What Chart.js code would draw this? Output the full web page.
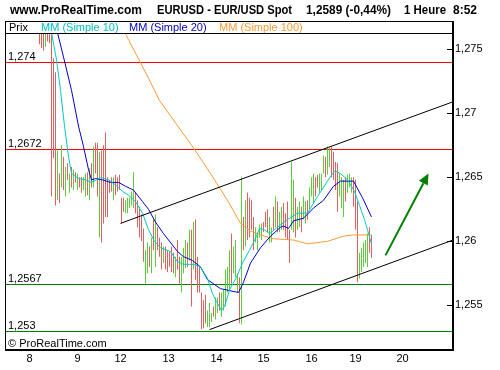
<!DOCTYPE html>
<html>
<head>
<meta charset="utf-8">
<script src="https://cdn.jsdelivr.net/npm/chart.js@4.4.0/dist/chart.umd.min.js"></script>
<style>
  html, body { margin: 0; padding: 0; background: #fff; }
  #wrap { width: 500px; height: 370px; }
</style>
</head>
<body>
<div id="wrap"><canvas id="c" width="500" height="370"></canvas></div>
<script>
// 1 hour bars, x = hour index (0 = start of day 8)
const firstBar = 5;
const hi = [
  1.2770, 1.2770, 1.2770, 1.2770, 1.2770, 1.2770, 1.2770, 1.2743, 1.2732, 1.2671,
  1.2653, 1.2675, 1.2666, 1.2658, 1.2661, 1.2653, 1.2658, 1.2656, 1.2654, 1.2653,
  1.2650, 1.2650, 1.2650, 1.2653, 1.2654, 1.2657, 1.2661, 1.2674, 1.2677, 1.2677,
  1.2670, 1.2671, 1.2675, 1.2685, 1.2650, 1.2648, 1.2650, 1.2650, 1.2652, 1.2650,
  1.2652, 1.2634, 1.2634, 1.2632, 1.2634, 1.2634, 1.2639, 1.2654, 1.2638, 1.2632,
  1.2627, 1.2621, 1.2610, 1.2593, 1.2599, 1.2596, 1.2603, 1.2617, 1.2621, 1.2611,
  1.2603, 1.2599, 1.2596, 1.2596, 1.2593, 1.2592, 1.2596, 1.2591, 1.2588, 1.2601,
  1.2588, 1.2588, 1.2595, 1.2601, 1.2599, 1.2609, 1.2609, 1.2615, 1.2617, 1.2588,
  1.2580, 1.2560, 1.2554, 1.2558, 1.2546, 1.2552, 1.2544, 1.2549, 1.2556, 1.2556,
  1.2560, 1.2560, 1.2562, 1.2578, 1.2580, 1.2593, 1.2606, 1.2596, 1.2601, 1.2575,
  1.2572, 1.2650, 1.2619, 1.2632, 1.2638, 1.2634, 1.2632, 1.2619, 1.2611, 1.2607,
  1.2613, 1.2614, 1.2615, 1.2623, 1.2625, 1.2619, 1.2611, 1.2627, 1.2635, 1.2631,
  1.2623, 1.2627, 1.2630, 1.2622, 1.2631, 1.2609, 1.2662, 1.2648, 1.2634, 1.2627,
  1.2631, 1.2627, 1.2635, 1.2631, 1.2632, 1.2642, 1.2650, 1.2653, 1.2650, 1.2652,
  1.2653, 1.2653, 1.2667, 1.2666, 1.2674, 1.2673, 1.2674, 1.2670, 1.2662, 1.2661,
  1.2653, 1.2650, 1.2648, 1.2650, 1.2652, 1.2653, 1.2650, 1.2650, 1.2648, 1.2631,
  1.2591, 1.2595, 1.2599, 1.2601, 1.2606, 1.2611, 1.2605
];
const lo = [
  1.2754, 1.2751, 1.2749, 1.2752, 1.2756, 1.2755, 1.2635, 1.2665, 1.2628, 1.2632,
  1.2630, 1.2642, 1.2640, 1.2635, 1.2648, 1.2638, 1.2642, 1.2640, 1.2646, 1.2640,
  1.2642, 1.2638, 1.2640, 1.2635, 1.2636, 1.2632, 1.2642, 1.2642, 1.2653, 1.2635,
  1.2603, 1.2599, 1.2614, 1.2619, 1.2619, 1.2638, 1.2639, 1.2632, 1.2636, 1.2639,
  1.2640, 1.2614, 1.2623, 1.2622, 1.2622, 1.2626, 1.2628, 1.2626, 1.2622, 1.2611,
  1.2603, 1.2600, 1.2584, 1.2567, 1.2575, 1.2580, 1.2575, 1.2593, 1.2580, 1.2593,
  1.2588, 1.2578, 1.2583, 1.2578, 1.2576, 1.2580, 1.2576, 1.2575, 1.2572, 1.2578,
  1.2567, 1.2560, 1.2575, 1.2579, 1.2580, 1.2585, 1.2549, 1.2578, 1.2570, 1.2560,
  1.2560, 1.2531, 1.2532, 1.2536, 1.2533, 1.2533, 1.2537, 1.2541, 1.2539, 1.2544,
  1.2546, 1.2541, 1.2546, 1.2549, 1.2560, 1.2562, 1.2567, 1.2575, 1.2572, 1.2560,
  1.2536, 1.2535, 1.2593, 1.2596, 1.2601, 1.2603, 1.2609, 1.2593, 1.2599, 1.2593,
  1.2603, 1.2601, 1.2607, 1.2611, 1.2607, 1.2599, 1.2599, 1.2609, 1.2611, 1.2607,
  1.2607, 1.2609, 1.2609, 1.2603, 1.2601, 1.2583, 1.2609, 1.2607, 1.2603, 1.2609,
  1.2611, 1.2607, 1.2617, 1.2614, 1.2617, 1.2625, 1.2635, 1.2630, 1.2635, 1.2642,
  1.2638, 1.2640, 1.2653, 1.2650, 1.2652, 1.2658, 1.2650, 1.2648, 1.2640, 1.2623,
  1.2635, 1.2626, 1.2619, 1.2631, 1.2638, 1.2642, 1.2638, 1.2627, 1.2609, 1.2568,
  1.2571, 1.2576, 1.2580, 1.2583, 1.2580, 1.2591, 1.2587
];
// g = hausse, r = baisse
const dirs = ("rrrgrrrrrg" + "rgrgrgrgrg" + "rrggrgrgrr" + "grrrrrrgrr" +
              "rrrgggggrr" + "rrrggrgrgr" + "rrgrrrrrgr" + "rgggrgrgrr" +
              "rrrrgggrgg" + "rgggggrggg" + "rgrgrrrrgg" + "ggrrrggrgr" +
              "ggrrrrggrg" + "grggrgggrr" + "gggrggrrrr" + "gggrgggrrr" +
              "gggggrr").split("");

// moyennes mobiles [heure, prix]
const ma10 = [
  [11, 1.2763], [13.5, 1.2742], [15.5, 1.2718], [17.5, 1.2690], [19.5, 1.2666],
  [21, 1.2653], [24.5, 1.2649], [28, 1.2648], [31, 1.2646], [33.5, 1.2648],
  [35.5, 1.2650], [39.5, 1.2648], [43, 1.2644], [46.5, 1.2639], [49.5, 1.2636],
  [53, 1.2631], [56.5, 1.2622], [59.5, 1.2609], [62.5, 1.2600], [65.5, 1.2595],
  [70.5, 1.2592], [74, 1.2584], [77, 1.2582], [82, 1.2582], [85.5, 1.2580],
  [89, 1.2571], [91.5, 1.2559], [93.5, 1.2553], [96, 1.2546], [97.5, 1.2549],
  [100, 1.2562], [103.5, 1.2572], [106.5, 1.2583], [110, 1.2593], [113.5, 1.2604],
  [115, 1.2610], [117.5, 1.2609], [120, 1.2606], [124, 1.2611], [129, 1.2617],
  [134, 1.2622], [139, 1.2622], [144, 1.2635], [149, 1.2647], [152.5, 1.2655],
  [155.5, 1.2653], [159, 1.2648], [162.5, 1.2639], [165, 1.2628], [167.5, 1.2617],
  [169, 1.2609], [171, 1.2598]
];
const ma20 = [
  [14, 1.2763], [17, 1.2744], [21, 1.2718], [24.5, 1.2690], [27, 1.2674],
  [29.5, 1.2656], [31, 1.2648], [33, 1.2649], [36.5, 1.2648], [40.5, 1.2646],
  [44.5, 1.2646], [48, 1.2643], [52, 1.2640], [56.5, 1.2631], [59.5, 1.2625],
  [63, 1.2615], [67, 1.2606], [71.5, 1.2597], [74, 1.2592], [77, 1.2588],
  [81.5, 1.2585], [85.5, 1.2580], [89, 1.2570], [95.5, 1.2563], [104.5, 1.2560],
  [107, 1.2568], [110.5, 1.2583], [115.5, 1.2595], [120.5, 1.2604], [125.5, 1.2611],
  [127, 1.2612], [129.5, 1.2610], [132, 1.2616], [137, 1.2618], [142, 1.2626],
  [147, 1.2632], [152, 1.2643], [155.5, 1.2647], [162, 1.2647], [166.5, 1.2634],
  [171, 1.2619]
];
const ma100 = [
  [46, 1.2768], [54, 1.2744], [59, 1.2729], [65, 1.2710], [75.5, 1.2687],
  [82, 1.2673], [90.5, 1.2653], [99, 1.2632], [105.5, 1.2614], [110.5, 1.2608],
  [115.5, 1.2605], [122, 1.2602], [132, 1.2601], [139, 1.2598], [149, 1.2600],
  [157, 1.2604], [162, 1.2605], [171, 1.2605]
];

// canal haussier et fleche
const upperChannel = [[45.5, 1.2614], [211.75, 1.2709]];
const lowerChannel = [[90, 1.2531], [211.75, 1.2601]];
const arrowPts = [[178, 1.2589], [199.5, 1.2653]];

const levels = [1.274, 1.2672, 1.2567, 1.253];
const levelColors = ["#ff0000", "#ff0000", "#008000", "#008000"];

const dayPos = [0, 24, 45.5, 69.5, 93.5, 117, 141, 163, 186.5];
const dayLabels = ["8", "9", "12", "13", "14", "15", "16", "19", "20"];
const priceTicks = [1.255, 1.26, 1.265, 1.27, 1.275];

const FONT = '"Liberation Sans", Arial, sans-serif';
const GREEN_BAR = "#5ccc3c", RED_BAR = "#e06060";
const fmt = v => String(v).replace(".", ",");
const toXY = arr => arr.map(p => ({ x: p[0], y: p[1] }));

const bars = hi.map((h, k) => ({ x: firstBar + k, y: [lo[k], h] }));
const barColor = c => dirs[c.dataIndex] === "g" ? GREEN_BAR : RED_BAR;

function lineSet(pts, color, order) {
  return {
    type: "line", data: toXY(pts), borderColor: color, borderWidth: 1,
    pointRadius: 0, tension: 0, fill: false, clip: 0, order: order
  };
}

const overlay = {
  id: "overlay",
  beforeDatasetsDraw(chart) {
    const ctx = chart.ctx, a = chart.chartArea, y = chart.scales.y;
    ctx.save();
    ctx.lineWidth = 1;
    levels.forEach((lv, i) => {
      const py = Math.round(y.getPixelForValue(lv)) + 0.5;
      ctx.strokeStyle = levelColors[i];
      ctx.beginPath();
      ctx.moveTo(a.left, py);
      ctx.lineTo(a.right, py);
      ctx.stroke();
    });
    ctx.restore();
  },
  afterDraw(chart) {
    const ctx = chart.ctx, a = chart.chartArea;
    const xs = chart.scales.x, y = chart.scales.y;
    ctx.save();

    // titre
    ctx.fillStyle = "#000";
    ctx.font = "bold 12px " + FONT;
    ctx.textBaseline = "alphabetic";
    ctx.fillText("www.ProRealTime.com", 10, 13.5, 134);
    ctx.fillText("EURUSD - EUR/USD Spot", 157, 13.5, 135);
    ctx.fillText("1,2589 (-0,44%)", 306, 13.5, 85);
    ctx.fillText("1 Heure", 404, 13.5, 42);
    ctx.fillText("8:52", 453, 13.5, 24);

    // legende
    ctx.font = "11px " + FONT;
    ctx.fillStyle = "#000";
    ctx.fillText("Prix", 9, 31);
    ctx.fillStyle = "#00c0c0";
    ctx.fillText("MM (Simple 10)", 41, 31);
    ctx.fillStyle = "#0000c0";
    ctx.fillText("MM (Simple 20)", 129, 31);
    ctx.fillStyle = "#ff9933";
    ctx.fillText("MM (Simple 100)", 219, 31);

    // niveaux
    ctx.fillStyle = "#000";
    levels.forEach(lv => {
      const py = Math.round(y.getPixelForValue(lv));
      ctx.fillText(fmt(lv), 8, py - 2);
    });
    ctx.fillText("\u00a9 ProRealTime.com", 8, 347);

    // fleche
    const p0 = { x: xs.getPixelForValue(arrowPts[0][0]), y: y.getPixelForValue(arrowPts[0][1]) };
    const p1 = { x: xs.getPixelForValue(arrowPts[1][0]), y: y.getPixelForValue(arrowPts[1][1]) };
    const len = Math.hypot(p1.x - p0.x, p1.y - p0.y);
    const dx = (p1.x - p0.x) / len, dy = (p1.y - p0.y) / len;
    const hl = 11, hw = 5;
    ctx.strokeStyle = "#008000";
    ctx.fillStyle = "#008000";
    ctx.lineWidth = 2;
    ctx.beginPath();
    ctx.moveTo(p0.x, p0.y);
    ctx.lineTo(p1.x - dx * hl, p1.y - dy * hl);
    ctx.stroke();
    ctx.beginPath();
    ctx.moveTo(p1.x, p1.y);
    ctx.lineTo(p1.x - dx * hl - dy * hw, p1.y - dy * hl + dx * hw);
    ctx.lineTo(p1.x - dx * hl + dy * hw, p1.y - dy * hl - dx * hw);
    ctx.closePath();
    ctx.fill();

    // cadre
    ctx.strokeStyle = "#000";
    ctx.lineWidth = 1;
    ctx.beginPath();
    ctx.moveTo(a.left, 21.5); ctx.lineTo(a.right, 21.5);
    ctx.moveTo(a.left, a.top - 0.5); ctx.lineTo(a.right, a.top - 0.5);
    ctx.moveTo(a.left + 0.5, 21); ctx.lineTo(a.left + 0.5, a.bottom);
    ctx.stroke();
    ctx.lineWidth = 2;
    ctx.beginPath();
    ctx.moveTo(a.right, 21); ctx.lineTo(a.right, a.bottom + 1);
    ctx.moveTo(a.left, a.bottom); ctx.lineTo(a.right + 1, a.bottom);
    ctx.stroke();

    // graduations
    ctx.lineWidth = 1;
    ctx.beginPath();
    priceTicks.forEach(v => {
      const py = Math.round(y.getPixelForValue(v)) + 0.5;
      ctx.moveTo(a.right - 6, py);
      ctx.lineTo(a.right, py);
    });
    ctx.stroke();
    ctx.restore();
  }
};

new Chart(document.getElementById("c"), {
  type: "bar",
  data: {
    datasets: [
      {
        type: "bar", data: bars, backgroundColor: barColor, borderColor: barColor,
        borderWidth: 0, barThickness: 1, inflateAmount: 0, grouped: false,
        clip: 0, order: 5
      },
      lineSet(ma100, "#ff9933", 4),
      lineSet(ma20, "#0000cc", 3),
      lineSet(ma10, "#00c8c8", 2),
      lineSet(upperChannel, "#000000", 1),
      lineSet(lowerChannel, "#000000", 1)
    ]
  },
  options: {
    responsive: false,
    animation: false,
    layout: { padding: { left: 5, top: 34, right: 0, bottom: 0 } },
    plugins: {
      legend: { display: false }, tooltip: { enabled: false },
      title: { display: false }, colors: { enabled: false }
    },
    scales: {
      x: {
        type: "linear", offset: false, min: -12.25, max: 211.75,
        grid: { display: false, drawTicks: false }, border: { display: false },
        afterBuildTicks: s => { s.ticks = dayPos.map(v => ({ value: v })); },
        afterFit: s => { s.height = 20; },
        ticks: {
          autoSkip: false, maxRotation: 0, padding: 2, color: "#000",
          font: { family: FONT, size: 11 },
          callback: (v, i) => dayLabels[i]
        }
      },
      y: {
        position: "right", min: 1.251508, max: 1.276195,
        grid: { display: false, drawTicks: false }, border: { display: false },
        afterBuildTicks: s => { s.ticks = priceTicks.map(v => ({ value: v })); },
        afterFit: s => { s.width = 47; },
        ticks: {
          padding: 2, color: "#000", font: { family: FONT, size: 11 },
          callback: v => fmt(v)
        }
      }
    }
  },
  plugins: [overlay]
});
</script>
</body>
</html>
